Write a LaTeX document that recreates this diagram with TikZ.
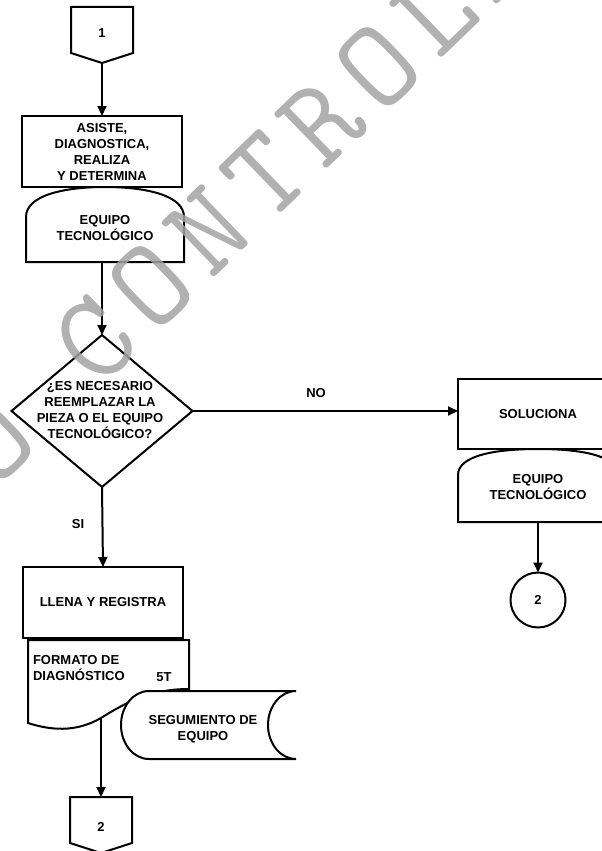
\documentclass[tikz,border=0pt]{standalone}
\usepackage{fontspec}
\setmainfont{Liberation Sans}
\newfontfamily\wmfont[LetterSpace=11.5]{Latin Modern Mono}
\usetikzlibrary{arrows.meta,shapes.geometric}
\begin{document}
\begin{tikzpicture}[x=1pt,y=-1pt,
  every node/.style={inner sep=0pt,outer sep=0pt},
  txt/.style={font=\fontsize{13}{16}\selectfont\bfseries,align=center},
  procbox/.style={draw,line width=2.2pt,minimum width=160pt,minimum height=71pt},
  shp/.style={draw,line width=2pt,line join=miter},
  flow/.style={line width=2pt,-{Triangle[length=10pt,width=9pt]}},
  link/.style={line width=2pt},
  wm/.style={font=\wmfont\fontsize{125}{125}\selectfont,text=black!36,opacity=0.85,rotate=44}]
\useasboundingbox (0,0) rectangle (602,851);
\clip (0,0) rectangle (602,851);

% off-page connector 1
\draw[shp] (71,7) -- (133,7) -- (133,53) -- (102,63) -- (71,53) -- cycle;
\coordinate (c1tip) at (102,63);
\node[txt] (c1) at (102,33) {1};

% process: asiste
\node[procbox,txt] (asiste) at (102,151.5) {ASISTE,\\DIAGNOSTICA,\\REALIZA\\Y DETERMINA};

% display: equipo tecnologico
\draw[shp] (26,262) -- (26,217) .. controls (26,195) and (65,187) .. (105,187)
  .. controls (145,187) and (184,195) .. (184,217) -- (184,262) -- cycle;
\node[txt] (eq1) at (105,228) {EQUIPO\\TECNOLÓGICO};
\coordinate (eq1bot) at (102,262);

% decision
\node[draw,diamond,line width=2pt,minimum width=181pt,minimum height=152pt] (dec) at (102,411) {};
\node[txt] (dectxt) at (100,410) {¿ES NECESARIO\\REEMPLAZAR LA\\PIEZA O EL EQUIPO\\TECNOLÓGICO?};

% branch NO
\node[procbox,txt,minimum height=70pt] (sol) at (538,414) {SOLUCIONA};
\draw[shp] (458,522) -- (458,475) .. controls (458,455) and (497,449) .. (538,449)
  .. controls (579,449) and (618,455) .. (618,475) -- (618,522) -- cycle;
\node[txt] (eq2) at (538,487) {EQUIPO\\TECNOLÓGICO};
\coordinate (eq2bot) at (538,522);
\node[draw,circle,line width=2pt,minimum size=55pt,txt] (c3) at (538,600) {2};

% branch SI
\node[procbox,txt] (llena) at (103,602.5) {LLENA Y REGISTRA};

% document: formato de diagnostico
\draw[shp] (28,640) -- (189,640) -- (189,689)
  .. controls (150,689) and (125,703) .. (101,718)
  .. controls (75,733) and (50,730) .. (28,723) -- cycle;
\coordinate (docbot) at (101,718);
\node[txt,align=left,anchor=west] (doc) at (33,668.5) {FORMATO DE\\DIAGNÓSTICO};
\node[txt] (doc5t) at (164,677) {5T};

% stored data: seguimiento de equipo
\draw[shp,fill=white] (149,691) -- (296,691)
  .. controls (280.5,691) and (268,706.2) .. (268,725)
  .. controls (268,743.8) and (280.5,759) .. (296,759)
  -- (149,759)
  .. controls (133.5,759) and (121,743.8) .. (121,725)
  .. controls (121,706.2) and (133.5,691) .. (149,691) -- cycle;
\node[txt] (seg) at (203,729.5) {SEGUMIENTO DE\\EQUIPO};

% off-page connector 2
\draw[shp] (70,797) -- (132,797) -- (132,843) -- (101,853) -- (70,843) -- cycle;
\coordinate (c2top) at (101,797);
\node[txt] (c2) at (101,827) {2};

% connectors
\draw[flow] (c1tip) -- (asiste.north);
\draw[flow] (eq1bot) -- (dec.north);
\draw[flow] (dec.east) -- (dec.east -| sol.west);
\node[txt] (no) at (316,393) {NO};
\draw[flow] (dec.south) -- (llena.north);
\node[txt] (si) at (78,524) {SI};
\draw[flow] (eq2bot) -- (c3.north);
\draw[flow] (docbot) -- (c2top);

% watermark
\node[wm] (stamp) at (270,171) {NO CONTROLADA};
\end{tikzpicture}
\end{document}
